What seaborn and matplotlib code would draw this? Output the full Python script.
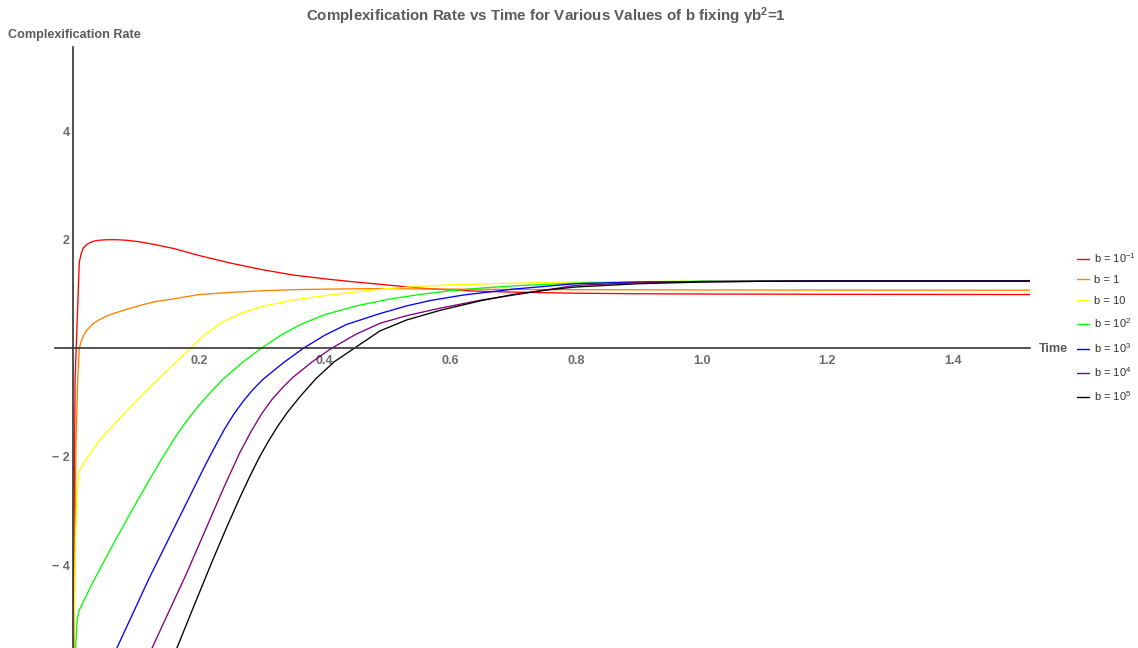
import numpy as np
import pandas as pd
import matplotlib
matplotlib.use("Agg")
import matplotlib.pyplot as plt
import seaborn as sns
from matplotlib.ticker import MultipleLocator, FixedLocator, FixedFormatter

# ---- data (time, complexification rate) ----
t_b01 = [0.0, 0.0026, 0.0094, 0.0125, 0.0158, 0.021, 0.027, 0.033, 0.04, 0.053, 0.069, 0.085, 0.106,
         0.13, 0.159, 0.2, 0.25, 0.3, 0.35, 0.4, 0.45, 0.488, 0.55, 0.6, 0.65, 0.7, 0.8, 0.9, 1.0,
         1.2, 1.53]
r_b01 = [-5.6, -0.59, 1.59, 1.75, 1.85, 1.91, 1.95, 1.975, 1.99, 2.0, 2.0, 1.99, 1.96,
         1.91, 1.84, 1.71, 1.57, 1.45, 1.35, 1.28, 1.22, 1.18, 1.11, 1.075, 1.05, 1.035, 1.015,
         1.005, 1.0, 0.995, 0.99]

t_b1 = [0.001, 0.004, 0.0068, 0.0094, 0.013, 0.017, 0.021, 0.03, 0.04, 0.052, 0.064, 0.085, 0.106,
        0.13, 0.159, 0.2, 0.25, 0.3, 0.35, 0.4, 0.488, 0.6, 0.7, 0.8, 1.0, 1.53]
r_b1 = [-5.6, -1.8, -0.59, 0.0, 0.15, 0.25, 0.33, 0.44, 0.52, 0.59, 0.64, 0.72, 0.79,
        0.86, 0.91, 0.99, 1.03, 1.06, 1.08, 1.09, 1.10, 1.09, 1.085, 1.08, 1.075, 1.07]

t_b10 = [0.0, 0.0036, 0.006, 0.0094, 0.02, 0.042, 0.07, 0.1, 0.13, 0.16, 0.186, 0.21, 0.24, 0.27,
         0.3, 0.35, 0.4, 0.45, 0.5, 0.55, 0.6, 0.7, 0.8, 0.9, 1.0, 1.2, 1.53]
r_b10 = [-5.6, -3.5, -2.6, -2.26, -2.05, -1.69, -1.33, -0.97, -0.62, -0.29, 0.0, 0.26, 0.5, 0.66,
         0.77, 0.89, 0.97, 1.04, 1.1, 1.14, 1.17, 1.2, 1.22, 1.23, 1.235, 1.24, 1.24]

t_b100 = [0.003, 0.006, 0.009, 0.03, 0.06, 0.09, 0.12, 0.14, 0.159, 0.18, 0.2, 0.22, 0.238, 0.27,
          0.299, 0.33, 0.36, 0.4, 0.45, 0.5, 0.55, 0.6, 0.65, 0.7, 0.8, 0.9, 1.0, 1.2, 1.53]
r_b100 = [-5.6, -5.0, -4.83, -4.33, -3.68, -3.05, -2.44, -2.05, -1.69, -1.34, -1.05, -0.79, -0.57,
          -0.25, 0.0, 0.24, 0.43, 0.62, 0.78, 0.9, 0.99, 1.06, 1.11, 1.15, 1.2, 1.225, 1.235, 1.24,
          1.24]

t_b1000 = [0.066, 0.09, 0.12, 0.15, 0.18, 0.21, 0.225, 0.24, 0.255, 0.27, 0.285, 0.302, 0.32, 0.335,
           0.366, 0.4, 0.435, 0.488, 0.53, 0.568, 0.62, 0.7, 0.8, 0.9, 1.0, 1.2, 1.53]
r_b1000 = [-5.6, -5.0, -4.25, -3.55, -2.85, -2.15, -1.82, -1.5, -1.22, -0.98, -0.77, -0.57, -0.4,
           -0.26, 0.0, 0.24, 0.44, 0.64, 0.78, 0.88, 0.98, 1.09, 1.19, 1.22, 1.23, 1.24, 1.24]

t_b10000 = [0.122, 0.15, 0.18, 0.21, 0.24, 0.265, 0.283, 0.3, 0.317, 0.335, 0.35, 0.38, 0.411, 0.45,
            0.488, 0.53, 0.584, 0.65, 0.7, 0.8, 0.9, 1.0, 1.1, 1.2, 1.53]
r_b10000 = [-5.6, -4.9, -4.15, -3.35, -2.55, -1.92, -1.53, -1.2, -0.93, -0.7, -0.53, -0.25, 0.0,
            0.26, 0.46, 0.6, 0.74, 0.89, 0.98, 1.16, 1.21, 1.23, 1.235, 1.24, 1.24]

t_b100000 = [0.162, 0.19, 0.22, 0.245, 0.265, 0.28, 0.295, 0.31, 0.325, 0.34, 0.36, 0.386, 0.415,
             0.447, 0.488, 0.53, 0.584, 0.65, 0.7, 0.75, 0.8, 0.9, 1.0, 1.1, 1.2, 1.53]
r_b100000 = [-5.6, -4.8, -3.95, -3.27, -2.75, -2.38, -2.03, -1.72, -1.44, -1.19, -0.9, -0.56, -0.25,
             0.0, 0.32, 0.52, 0.70, 0.88, 0.99, 1.07, 1.13, 1.19, 1.22, 1.235, 1.24, 1.24]

labels = ["b = 10$^{-1}$", "b = 1", "b = 10", "b = 10$^{2}$", "b = 10$^{3}$", "b = 10$^{4}$", "b = 10$^{5}$"]
colors = ["#FF0000", "#FF8000", "#FFFF00", "#00FF00", "#0000FF", "#800080", "#000000"]
series_t = [t_b01, t_b1, t_b10, t_b100, t_b1000, t_b10000, t_b100000]
series_r = [r_b01, r_b1, r_b10, r_b100, r_b1000, r_b10000, r_b100000]

x_major = [0.2, 0.4, 0.6, 0.8, 1.0, 1.2, 1.4]
x_major_labels = ["0.2", "0.4", "0.6", "0.8", "1.0", "1.2", "1.4"]
y_major = [-4, -2, 2, 4]
y_major_labels = ["\u2212 4", "\u2212 2", "2", "4"]

# ---- style ----
sns.set_theme(style="white")
plt.rcParams["font.family"] = ["Liberation Sans", "DejaVu Sans"]
plt.rcParams["mathtext.fontset"] = "custom"
plt.rcParams["mathtext.rm"] = "Liberation Sans"
plt.rcParams["mathtext.it"] = "Liberation Sans:italic"
plt.rcParams["mathtext.bf"] = "Liberation Sans:bold"

W, H = 1138, 648
fig = plt.figure(figsize=(W / 100, H / 100), dpi=100)
ax = fig.add_axes([55 / W, 0, 975 / W, 601 / H])

frames = []
for lab, t, r in zip(labels, series_t, series_r):
    frames.append(pd.DataFrame({"t": t, "rate": r, "b": lab}))
df = pd.concat(frames, ignore_index=True)

sns.lineplot(data=df, x="t", y="rate", hue="b", hue_order=labels,
             palette=dict(zip(labels, colors)), estimator=None, sort=False,
             linewidth=0.95, ax=ax, legend=False)

ax.set_xlim(-0.0293, 1.523)
ax.set_ylim(-5.52, 5.55)

for s in ["top", "right"]:
    ax.spines[s].set_visible(False)
ax.spines["left"].set_position(("data", 0))
ax.spines["bottom"].set_position(("data", 0))
for s in ["left", "bottom"]:
    ax.spines[s].set_color("#333333")
    ax.spines[s].set_linewidth(1.2)

ax.xaxis.set_major_locator(FixedLocator(x_major))
ax.xaxis.set_major_formatter(FixedFormatter(x_major_labels))
ax.xaxis.set_minor_locator(MultipleLocator(0.05))
ax.yaxis.set_major_locator(FixedLocator(y_major))
ax.yaxis.set_major_formatter(FixedFormatter(y_major_labels))
ax.yaxis.set_minor_locator(MultipleLocator(0.5))

ax.tick_params(axis="both", which="both", direction="in", color="#444444")
ax.tick_params(axis="both", which="major", length=3.2, width=0.8, labelsize=9,
               labelcolor="#6a6a6a")
ax.tick_params(axis="both", which="minor", length=1.8, width=0.6)
ax.tick_params(axis="x", which="major", pad=4.5)
ax.tick_params(axis="y", which="major", pad=2.5)
for lbl in ax.get_xticklabels() + ax.get_yticklabels():
    lbl.set_fontweight("bold")
ax.set_xlabel("")
ax.set_ylabel("")
ax.grid(False)

fig.text(546 / W, 1 - 16 / H,
         "Complexification Rate vs Time for Various Values of b fixing \u03b3b$^{\\mathbf{2}}$=1",
         ha="center", va="center", fontsize=10.9, fontweight="bold", color="#5a5a5a")
fig.text(8 / W, 1 - 35 / H, "Complexification Rate", ha="left", va="center",
         fontsize=9.1, fontweight="bold", color="#5a5a5a")
fig.text(1039 / W, 1 - 349 / H, "Time", ha="left", va="center",
         fontsize=9.1, fontweight="bold", color="#5a5a5a")

handles = [plt.Line2D([0], [0], color=c, lw=1.0) for c in colors]
leg = fig.legend(handles, labels, loc="upper left", bbox_to_anchor=(1077 / W, 1 - 251 / H),
                 frameon=False, fontsize=8.0, handlelength=1.05, handletextpad=0.5,
                 labelspacing=0.95, borderaxespad=0, borderpad=0)
for txt in leg.get_texts():
    txt.set_color("#333333")

fig.savefig("out.png", dpi=100)
